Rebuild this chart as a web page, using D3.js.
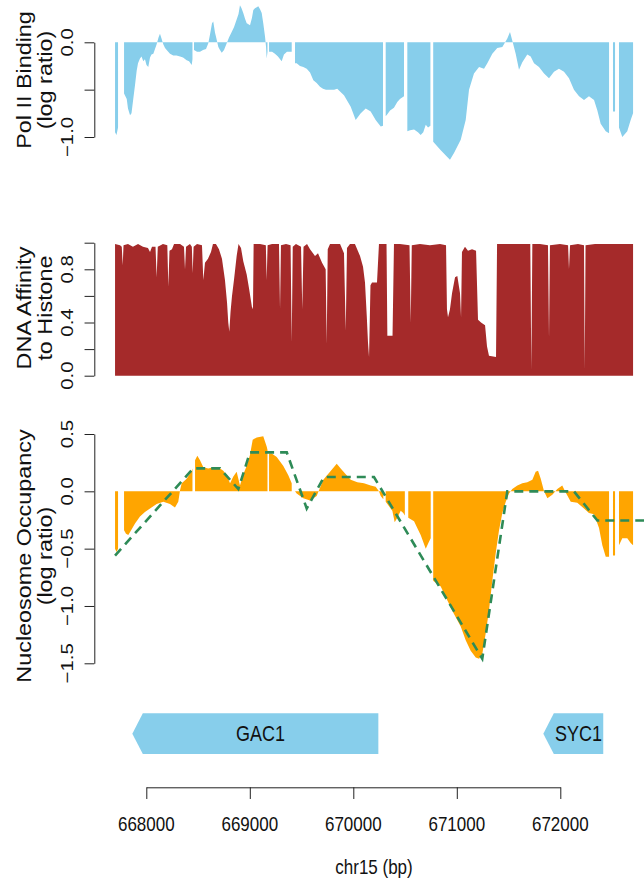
<!DOCTYPE html>
<html><head><meta charset="utf-8">
<script src="https://cdn.jsdelivr.net/npm/d3@7"></script>
<style>html,body{margin:0;padding:0;background:#fff;} svg{display:block;}</style>
</head><body>
<svg id="chart" width="644" height="881"></svg>
<script>
// ---------------- DATA ----------------
const xTicks = [668000, 669000, 670000, 671000, 672000];
const xTickLabels = ["668000", "669000", "670000", "671000", "672000"];
const xTitle = "chr15 (bp)";

// Pol II binding (log ratio); null = missing probe (gap)
const polPos = [667698,667712,667727,667755,667785,667811,667823,667843,667857,667874,667891,667907,667920,667939,667954,667971,667987,668002,668019,668036,668050,668068,668084,668100,668118,668132,668147,668164,668181,668197,668229,668261,668292,668326,668355,668390,668413,668439,668446,668454,668461,668490,668519,668548,668577,668599,668615,668635,668647,668664,668673,668696,668712,668729,668751,668777,668799,668825,668847,668873,668891,668905,668920,668937,668954,668970,668987,669002,669021,669034,669050,669067,669082,669099,669115,669130,669147,669157,669163,669171,669180,669186,669215,669243,669272,669308,669330,669359,669388,669405,669420,669437,669453,669485,669517,669550,669582,669614,669646,669678,669707,669736,669775,669814,669845,669872,669910,669975,670023,670072,670120,670168,670216,670265,670287,670297,670313,670329,670355,670393,670425,670451,670490,670506,670522,670548,670587,670625,670651,670676,670700,670722,670745,670760,670772,670845,670908,670934,670973,671038,671086,671118,671166,671215,671263,671295,671343,671391,671440,671488,671514,671536,671569,671601,671633,671681,671714,671746,671794,671843,671891,671939,671987,672036,672084,672132,672181,672229,672277,672326,672358,672390,672439,672471,672490,672509,672529,672548,672567,672599,672647,672680,672703];
const polVal = [-0.95,-0.98,-0.9,null,-0.54,-0.6,-0.7,-0.77,-0.75,-0.6,-0.45,-0.3,-0.22,-0.17,-0.15,-0.2,-0.18,-0.24,-0.26,-0.16,-0.13,-0.12,-0.07,-0.02,0.05,0.09,0.04,-0.02,-0.06,-0.08,-0.12,-0.14,-0.14,-0.15,-0.16,-0.19,-0.2,-0.24,-0.18,null,-0.08,-0.1,-0.1,-0.08,-0.07,-0.01,0.08,0.2,0.22,0.1,0.06,-0.05,-0.08,-0.11,-0.08,-0.01,0.05,0.11,0.16,0.24,0.3,0.39,0.36,0.31,0.25,0.2,0.19,0.18,0.26,0.34,0.36,0.37,0.38,0.35,0.31,0.2,0.06,-0.05,-0.17,-0.1,null,-0.1,-0.1,-0.12,-0.15,-0.2,-0.13,-0.1,-0.1,-0.1,null,-0.22,-0.22,-0.25,-0.26,-0.28,-0.32,-0.4,-0.43,-0.47,-0.49,-0.5,-0.5,-0.5,-0.49,-0.52,-0.56,-0.68,-0.82,-0.75,-0.7,-0.73,-0.82,-0.89,-0.88,null,-0.78,-0.76,-0.72,-0.69,-0.63,-0.6,-0.57,null,-0.94,-0.93,-0.92,-0.95,-0.98,-0.95,-0.87,-0.9,-0.88,null,-1.05,-1.14,-1.21,-1.24,-1.17,-1.03,-0.82,-0.5,-0.33,-0.26,-0.28,-0.22,-0.12,-0.06,-0.05,0.04,0.11,0.02,-0.12,-0.29,-0.21,-0.13,-0.15,-0.22,-0.26,-0.33,-0.38,-0.31,-0.28,-0.31,-0.38,-0.5,-0.57,-0.61,-0.57,-0.61,-0.72,-0.86,-0.94,-0.96,null,-0.73,-0.73,null,-0.9,-1.0,-0.94,-0.82,-0.75];
const polTicks = [0, -0.5, -1];
const polTickLabels = ["0.0", "", "\u22121.0"];
const polTitle = ["Pol II Binding", "(log ratio)"];

// DNA affinity to histone
const affPos = [667698,667746,667763,667772,667780,667823,667871,667920,667968,668016,668036,668055,668089,668100,668111,668161,668203,668213,668224,668248,668268,668326,668364,668374,668384,668422,668440,668448,668457,668490,668538,668551,668567,668596,668625,668644,668673,668702,668731,668760,668780,668792,668802,668814,668828,668847,668873,668891,668915,668937,668970,668992,669012,669024,669031,669037,669099,669155,669163,669172,669215,669282,669292,669301,669350,669394,669405,669415,669446,669495,669507,669519,669553,669582,669630,669659,669698,669733,669743,669753,669775,669872,669910,669927,669939,669968,670016,670065,670094,670113,670130,670142,670152,670166,670181,670229,670248,670306,670321,670329,670364,670379,670393,670451,670543,670555,670565,670644,670741,670838,670896,670905,670915,670934,670954,670983,671005,671031,671041,671050,671079,671108,671147,671186,671205,671234,671273,671292,671311,671379,671389,671514,671611,671710,671720,671730,671804,671881,671891,671900,671997,672075,672084,672094,672171,672229,672236,672244,672335,672480,672625,672703];
const affVal = [0.99,0.98,0.97,0.83,0.98,0.99,0.97,0.99,0.97,0.96,0.93,0.97,0.97,0.74,0.97,0.99,0.98,0.67,0.94,0.95,0.99,0.99,0.97,0.8,0.97,0.99,0.97,0.77,0.97,0.99,0.98,0.72,0.85,0.88,0.93,0.99,0.99,0.95,0.88,0.72,0.55,0.4,0.33,0.48,0.6,0.72,0.9,0.99,0.96,0.86,0.76,0.66,0.56,0.5,0.52,0.99,0.99,0.98,0.72,0.98,0.99,0.99,0.5,0.98,0.99,0.98,0.25,0.97,0.99,0.97,0.5,0.97,0.99,0.95,0.9,0.92,0.85,0.8,0.24,0.95,0.99,0.99,0.92,0.34,0.96,0.99,0.99,0.9,0.82,0.7,0.45,0.25,0.14,0.68,0.7,0.7,0.99,0.99,0.99,0.3,0.3,0.3,0.99,0.99,0.98,0.4,0.98,0.99,0.98,0.99,0.98,0.5,0.44,0.5,0.62,0.74,0.75,0.62,0.44,0.93,0.97,0.94,0.95,0.94,0.42,0.4,0.38,0.22,0.15,0.14,0.99,0.99,0.99,0.99,0.05,0.99,0.99,0.98,0.28,0.98,0.99,0.98,0.8,0.98,0.99,0.98,0.04,0.98,0.99,0.99,0.99,0.99];
const affTicks = [0, 0.2, 0.4, 0.6, 0.8, 1.0];
const affTickLabels = ["0.0", "", "0.4", "", "0.8", ""];
const affTitle = ["DNA Affinity", "to Histone"];

// Nucleosome occupancy (log ratio)
const nucPos = [667698,667712,667727,667755,667785,667804,667826,667859,667891,667939,667987,668036,668100,668164,668229,668277,668309,668326,668342,668390,668439,668446,668454,668471,668493,668519,668551,668599,668647,668696,668744,668777,668809,668841,668873,668905,668937,668970,669002,669028,669067,669130,669163,669171,669180,669186,669212,669260,669324,669372,669405,669420,669437,669453,669517,669582,669646,669710,669775,669840,669878,669927,669975,670039,670103,670168,670216,670248,670265,670290,670297,670313,670345,670377,670400,670425,670458,670483,670498,670506,670531,670587,670618,670651,670700,670731,670748,670760,670772,670845,670908,670973,671038,671086,671134,671183,671215,671246,671279,671311,671343,671376,671408,671440,671473,671504,671536,671585,671633,671681,671730,671762,671785,671811,671843,671875,671923,671971,672019,672052,672101,672164,672229,672277,672326,672374,672406,672439,672471,672490,672509,672529,672548,672567,672599,672647,672680,672703];
const nucVal = [-0.5,-0.53,-0.5,null,-0.34,-0.37,-0.38,-0.33,-0.28,-0.22,-0.18,-0.15,-0.11,-0.09,-0.11,-0.14,-0.09,0.01,0.07,0.11,0.18,0.2,null,0.27,0.31,0.27,0.21,0.2,0.21,0.21,0.18,0.14,0.07,0.13,0.17,0.05,0.15,0.22,0.32,0.45,0.47,0.48,0.39,0.36,null,0.33,0.33,0.3,0.22,0.14,0.07,null,0.0,-0.02,-0.06,-0.08,-0.04,0.1,0.17,0.24,0.2,0.15,0.1,0.08,0.07,0.05,0.04,0.0,-0.04,-0.07,null,-0.09,-0.13,-0.17,-0.27,-0.23,-0.17,-0.19,-0.21,null,-0.23,-0.26,-0.32,-0.38,-0.5,-0.44,-0.41,null,-0.78,-0.83,-0.95,-1.07,-1.18,-1.3,-1.39,-1.45,-1.46,-1.42,-1.24,-1.04,-0.78,-0.54,-0.34,-0.19,-0.09,-0.02,0.02,0.05,0.07,0.08,0.1,0.17,0.18,0.11,0.0,-0.06,-0.03,0.02,0.05,-0.01,-0.09,-0.1,-0.15,-0.19,-0.2,-0.32,-0.47,-0.57,-0.57,null,-0.56,-0.56,null,-0.47,-0.41,-0.41,-0.45,-0.47];
// segmented (smoothed) occupancy, dashed line
const segPos = [667698,668454,668712,668889,669002,669357,669550,669717,670200,671246,671488,672132,672358,672809];
const segVal = [-0.56,0.2,0.2,0.02,0.34,0.34,-0.15,0.125,0.125,-1.46,0.0,0.0,-0.255,-0.255];
const nucTicks = [0.5, 0, -0.5, -1, -1.5];
const nucTickLabels = ["0.5", "0.0", "\u22120.5", "\u22121.0", "\u22121.5"];
const nucTitle = ["Nucleosome Occupancy", "(log ratio)"];

// genes (both on minus strand)
const geneNames = ["GAC1", "SYC1"];
const geneStart = [667865, 671836];
const geneEnd = [670242, 672415];

// ---------------- STYLE / LAYOUT ----------------
const FONT = "'Liberation Sans', Arial, Helvetica, sans-serif";
const FS = 17, FS_TITLE = 19.5, FS_GENE = 18, SY = 1.2;
const AXX = 94.3, TICK = 9.75, TICKLAB_X = 67, TITLE_X1 = 24, TITLE_X2 = 45;
const svg = d3.select("#chart");

const x = d3.scaleLinear().domain([668000, 672000]).range([146.3, 560.3]);
const yPol = d3.scaleLinear().domain([-1, 0]).range([137, 42.3]);
const yAff = d3.scaleLinear().domain([0, 1]).range([375.7, 242.7]);
const yNuc = d3.scaleLinear().domain([-1.5, 0.5]).range([663.3, 434]);

function hText(g, tx, ty, str, size) {
  return g.append("text").attr("transform", `translate(${tx},${ty}) scale(1,${SY})`)
    .attr("text-anchor", "middle").attr("dy", "0.35em")
    .attr("font-family", FONT).attr("font-size", size || FS).attr("fill", "#111").text(str);
}
function vText(g, tx, ty, str, size) {
  return g.append("text").attr("transform", `translate(${tx},${ty}) rotate(-90) scale(${SY},1)`)
    .attr("text-anchor", "middle").attr("dy", "0.35em")
    .attr("font-family", FONT).attr("font-size", size || FS).attr("fill", "#111").text(str);
}

function yAxis(scale, ticks, labels, title, titleY) {
  const ext = d3.extent(ticks);
  const axScale = scale.copy().domain(ext).range([scale(ext[0]), scale(ext[1])]);
  const g = svg.append("g").attr("transform", `translate(${AXX},0)`)
    .call(d3.axisLeft(axScale).tickValues(ticks).tickSize(TICK).tickSizeOuter(0).tickFormat(""));
  g.select(".domain").attr("stroke", "#222").attr("stroke-width", 1);
  g.selectAll(".tick line").attr("stroke", "#222").attr("stroke-width", 1);
  ticks.forEach((t, i) => { if (labels[i]) vText(svg, TICKLAB_X, scale(t), labels[i]); });
  vText(svg, TITLE_X1, titleY, title[0], FS_TITLE);
  vText(svg, TITLE_X2, titleY, title[1], FS_TITLE);
}

function areaPanel(pos, val, scale, color) {
  const data = pos.map((p, i) => ({ p, v: val[i] }));
  const area = d3.area().defined(d => d.v !== null)
    .x(d => x(d.p)).y0(scale(0)).y1(d => scale(d.v));
  svg.append("path").datum(data).attr("d", area).attr("fill", color).attr("stroke", "none");
}

// Pol II
areaPanel(polPos, polVal, yPol, "#87CEEB");
yAxis(yPol, polTicks, polTickLabels, polTitle, 80);

// Affinity
areaPanel(affPos, affVal, yAff, "#A52A2A");
yAxis(yAff, affTicks, affTickLabels, affTitle, 308);

// Nucleosome
areaPanel(nucPos, nucVal, yNuc, "#FFA500");
const segData = segPos.map((p, i) => ({ p, v: segVal[i] }));
svg.append("path").datum(segData)
  .attr("d", d3.line().x(d => x(d.p)).y(d => yNuc(d.v)))
  .attr("fill", "none").attr("stroke", "#2E8B57").attr("stroke-width", 2.6)
  .attr("stroke-dasharray", "9,6");
yAxis(yNuc, nucTicks, nucTickLabels, nucTitle, 556);

// genes
const gTop = 713.3, gBot = 754, head = 10.5;
geneNames.forEach((name, i) => {
  const x0 = x(geneStart[i]), x1 = x(geneEnd[i]), ym = (gTop + gBot) / 2;
  svg.append("polygon")
    .attr("points", [[x0, ym], [x0 + head, gTop], [x1, gTop], [x1, gBot], [x0 + head, gBot]].map(p => p.join(",")).join(" "))
    .attr("fill", "#87CEEB");
  hText(svg, (x0 + x1) / 2 + head / 2, ym, name, FS_GENE);
});

// x axis
const xg = svg.append("g").attr("transform", "translate(0,787.3)")
  .call(d3.axisBottom(x).tickValues(xTicks).tickSize(TICK * SY).tickSizeOuter(0).tickFormat(""));
xg.select(".domain").attr("stroke", "#222");
xg.selectAll(".tick line").attr("stroke", "#222");
xTicks.forEach((t, i) => hText(svg, x(t), 823.5, xTickLabels[i]));
hText(svg, x(670200), 867, xTitle);
</script>
</body></html>
